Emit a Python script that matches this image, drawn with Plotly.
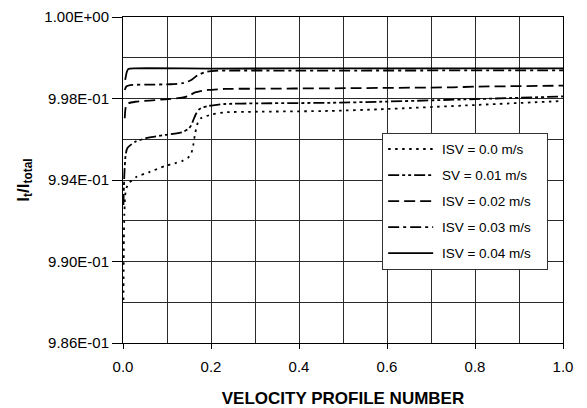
import plotly.graph_objects as go

# ---- data ----
series_names = ["ISV = 0.0 m/s", "SV = 0.01 m/s", "ISV = 0.02 m/s", "ISV = 0.03 m/s", "ISV = 0.04 m/s"]

x_isv00 = [0.001, 0.002, 0.003, 0.005, 0.008, 0.013, 0.03, 0.06, 0.096, 0.119, 0.134, 0.148, 0.155, 0.160, 0.164, 0.170, 0.177, 0.190, 0.202, 0.232, 0.30, 0.47, 0.584, 0.80, 1.0]
y_isv00 = [0.98811, 0.99106, 0.99228, 0.99326, 0.99361, 0.99384, 0.99415, 0.99439, 0.99469, 0.99483, 0.99493, 0.99510, 0.99530, 0.99575, 0.99630, 0.99680, 0.99703, 0.99714, 0.99722, 0.99732, 0.99735, 0.99739, 0.99747, 0.99768, 0.99788]

x_isv01 = [0.001, 0.003, 0.006, 0.010, 0.028, 0.058, 0.096, 0.134, 0.148, 0.155, 0.160, 0.166, 0.172, 0.180, 0.195, 0.209, 0.232, 0.30, 0.47, 0.584, 0.80, 1.0]
y_isv01 = [0.99277, 0.99425, 0.99523, 0.99557, 0.99588, 0.99608, 0.99621, 0.99634, 0.99650, 0.99668, 0.99695, 0.99725, 0.99745, 0.99756, 0.99764, 0.99768, 0.99773, 0.99776, 0.99779, 0.99784, 0.99797, 0.99810]

x_isv02 = [0.004, 0.0065, 0.012, 0.028, 0.060, 0.096, 0.134, 0.150, 0.164, 0.180, 0.193, 0.232, 0.30, 0.47, 0.75, 0.80, 1.0]
y_isv02 = [0.99703, 0.99760, 0.99776, 0.99784, 0.99790, 0.99796, 0.99804, 0.99814, 0.99830, 0.99838, 0.99842, 0.99847, 0.99848, 0.99850, 0.99855, 0.99858, 0.99863]

x_isv03 = [0.004, 0.0075, 0.0166, 0.062, 0.107, 0.135, 0.153, 0.169, 0.187, 0.209, 0.402, 1.0]
y_isv03 = [0.99842, 0.99859, 0.99866, 0.99868, 0.99870, 0.99875, 0.99888, 0.99913, 0.99930, 0.99936, 0.99937, 0.99938]

x_isv04 = [0.005, 0.0086, 0.012, 0.028, 0.20, 0.50, 1.0]
y_isv04 = [0.99891, 0.99930, 0.99945, 0.99948, 0.99947, 0.99948, 0.99948]

y_tick_vals = [0.986, 0.990, 0.994, 0.998, 1.002]
y_tick_text = ["9.86E-01", "9.90E-01", "9.94E-01", "9.98E-01", "1.00E+00"]
x_tick_vals = [0.0, 0.2, 0.4, 0.6, 0.8, 1.0]
x_tick_text = ["0.0", "0.2", "0.4", "0.6", "0.8", "1.0"]

xs = [x_isv00, x_isv01, x_isv02, x_isv03, x_isv04]
ys = [y_isv00, y_isv01, y_isv02, y_isv03, y_isv04]
dashes = ["2.5px,4.5px", "11px,3px,3px,3px,3px,3px", "11px,5px", "11px,4px,3px,4px", "solid"]

FONT = "Arial, Liberation Sans, sans-serif"
NB = "\u00a0"

fig = go.Figure()
for i, (name, x, y, d) in enumerate(zip(series_names, xs, ys, dashes)):
    fig.add_trace(go.Scatter(
        x=x, y=y, mode="lines", name=NB + name + NB * 3, legendgroup=f"g{i}",
        line=dict(color="black", width=1.8, dash=d, shape="spline", smoothing=0.6),
    ))

grid = "#2a2a2a"
fig.update_layout(
    width=587, height=408,
    margin=dict(l=123, r=24, t=17, b=65),
    paper_bgcolor="white", plot_bgcolor="white",
    font=dict(family=FONT, color="black"),
    showlegend=True,
    legend=dict(
        x=0.589, y=0.645, xanchor="left", yanchor="top",
        bgcolor="white", bordercolor="#333", borderwidth=1,
        font=dict(size=13.5, family=FONT, color="black"),
        traceorder="grouped", tracegroupgap=5.5, itemwidth=45,
    ),
    xaxis=dict(
        range=[0, 1], tickvals=x_tick_vals, ticktext=x_tick_text,
        showgrid=True, gridcolor=grid, gridwidth=1,
        minor=dict(dtick=0.1, tick0=0, showgrid=True, gridcolor=grid, gridwidth=1, ticks=""),
        ticks="outside", ticklen=5, tickcolor="black", ticklabelstandoff=5,
        showline=True, linecolor="black", linewidth=1, mirror=True,
        tickfont=dict(size=15, family=FONT, color="black"),
        zeroline=False, automargin=False,
        title=dict(text="<b>VELOCITY PROFILE NUMBER</b>", font=dict(size=17, family=FONT, color="black"), standoff=21),
    ),
    yaxis=dict(
        range=[0.986, 1.002], tickvals=y_tick_vals, ticktext=y_tick_text,
        showgrid=True, gridcolor=grid, gridwidth=1,
        minor=dict(dtick=0.002, tick0=0.986, showgrid=True, gridcolor=grid, gridwidth=1, ticks=""),
        ticks="outside", ticklen=10, tickcolor="black",
        showline=True, linecolor="black", linewidth=1, mirror=True,
        tickfont=dict(size=15, family=FONT, color="black"),
        zeroline=False, automargin=False,
        title=dict(text="<b>I<sub>t</sub>/I<sub>total</sub></b>", font=dict(size=17, family=FONT, color="black"), standoff=10),
    ),
)

fig.write_html("out.html")
